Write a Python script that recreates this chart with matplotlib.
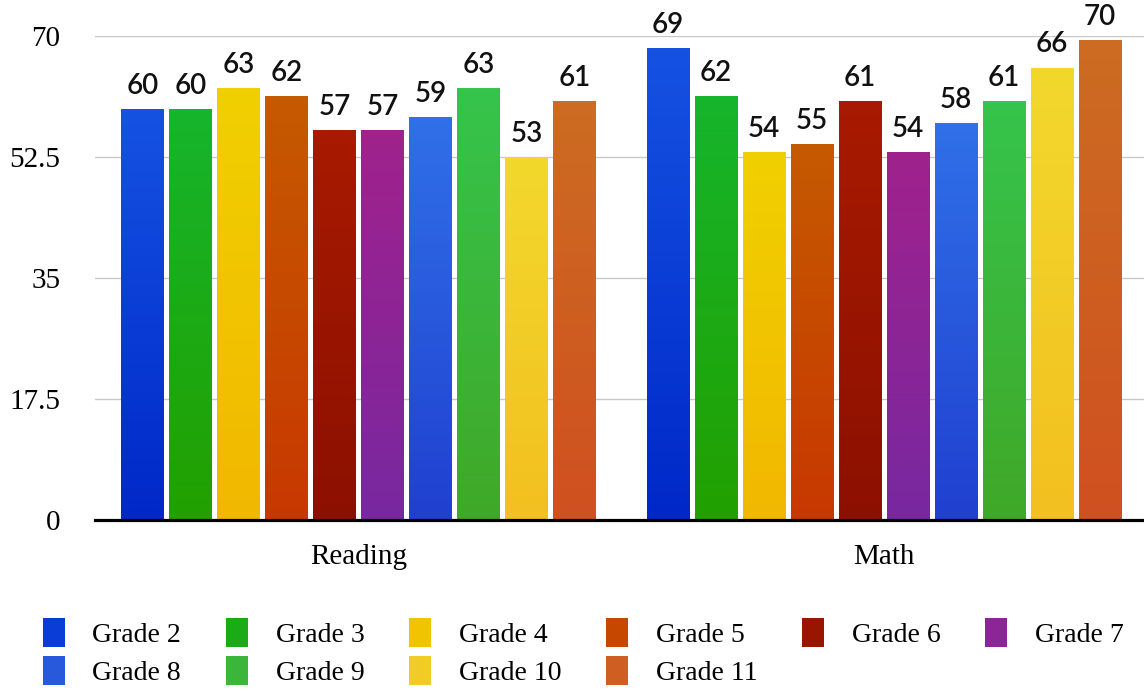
import numpy as np
import matplotlib
matplotlib.use('Agg')
import matplotlib.pyplot as plt
from matplotlib.colors import LinearSegmentedColormap

# datos
subjects = ['Reading', 'Math']
grades = ['Grade 2', 'Grade 3', 'Grade 4', 'Grade 5', 'Grade 6',
          'Grade 7', 'Grade 8', 'Grade 9', 'Grade 10', 'Grade 11']
reading = [59.4, 59.4, 62.4, 61.3, 56.3, 56.3, 58.2, 62.4, 52.4, 60.5]
math = [68.2, 61.3, 53.2, 54.3, 60.5, 53.2, 57.4, 60.5, 65.4, 69.4]
reading_labels = [60, 60, 63, 62, 57, 57, 59, 63, 53, 61]
math_labels = [69, 62, 54, 55, 61, 54, 58, 61, 66, 70]
yticks = [0, 17.5, 35, 52.5, 70]
ytick_labels = ['0', '17.5', '35', '52.5', '70']

# colores (arriba / abajo del degradado)
top_colors = ['#1552e2', '#16b52c', '#f0d000', '#c55a00', '#a81a00',
              '#a0228c', '#3070e8', '#36c44c', '#f2d82c', '#cc6c22']
bot_colors = ['#0028c8', '#22a000', '#f2b800', '#c83800', '#8c1000',
              '#7828a0', '#2040d0', '#40a828', '#f2c020', '#d05020']
mid_colors = ['#0a3cd6', '#1aab16', '#f1c400', '#c64800', '#9a1500',
              '#8c2596', '#2858dc', '#3bb63a', '#f2cc26', '#ce5e21']

SERIF = 'Liberation Serif'
SANS = 'Lato'

fig = plt.figure(figsize=(11.44, 6.92), dpi=100)
ax = fig.add_axes([95 / 1144, 172 / 692, 1 - 95 / 1144, (520 - 35.7) / 692])

x = np.arange(len(subjects))
pitch = 0.0913
width = 0.081
n = len(grades)

bar_groups = []
for i, g in enumerate(grades):
    vals = [reading[i], math[i]]
    pos = x + (i - (n - 1) / 2) * pitch
    bars = ax.bar(pos, vals, width, color=mid_colors[i], label=g, zorder=3)
    bar_groups.append(bars)
    labs = [reading_labels[i], math_labels[i]]
    for rect, lab in zip(bars, labs):
        # degradado vertical dentro de la barra
        cmap = LinearSegmentedColormap.from_list('g', [bot_colors[i], top_colors[i]])
        x0, w = rect.get_x(), rect.get_width()
        h = rect.get_height()
        grad = np.linspace(0, 1, 128)[:, None]
        im = ax.imshow(grad, extent=[x0, x0 + w, 0, h], origin='lower',
                       aspect='auto', cmap=cmap, zorder=3.5)
        im.set_clip_path(rect)
        ax.annotate(str(lab), (x0 + w / 2, h), xytext=(0, 11),
                    textcoords='offset points', ha='center', va='baseline',
                    fontsize=20, family=SANS, fontweight='semibold',
                    color='#111111', clip_on=False)

ax.set_xlim(-0.5014, 1.4948)
ax.set_ylim(0, 70)
ax.set_yticks(yticks)
ax.set_yticklabels(ytick_labels, fontsize=21, family=SERIF)
ax.set_xticks(x)
ax.set_xticklabels(subjects, fontsize=21, family=SERIF)
ax.tick_params(axis='y', length=0, pad=25)
ax.tick_params(axis='x', length=0, pad=17)
ax.grid(axis='y', color='#c8c8c8', linewidth=1.0, zorder=1)
ax.set_axisbelow(True)
for s in ['top', 'right', 'left']:
    ax.spines[s].set_visible(False)
ax.spines['bottom'].set_linewidth(2.3)
ax.spines['bottom'].set_zorder(5)

# leyenda: orden por filas (matplotlib rellena por columnas)
order = [0, 6, 1, 7, 2, 8, 3, 9, 4, 5]
handles = [bar_groups[k] for k in order]
labels = [grades[k] for k in order]
fig.legend(handles, labels, ncol=6, loc='center left',
           bbox_to_anchor=(42.5 / 1144, 40 / 692), frameon=False,
           prop={'family': SERIF, 'size': 20}, handlelength=0.8,
           handleheight=1.2, handletextpad=1.0, columnspacing=1.6,
           labelspacing=0.3, borderpad=0, borderaxespad=0)

fig.savefig('out.png', dpi=100)
